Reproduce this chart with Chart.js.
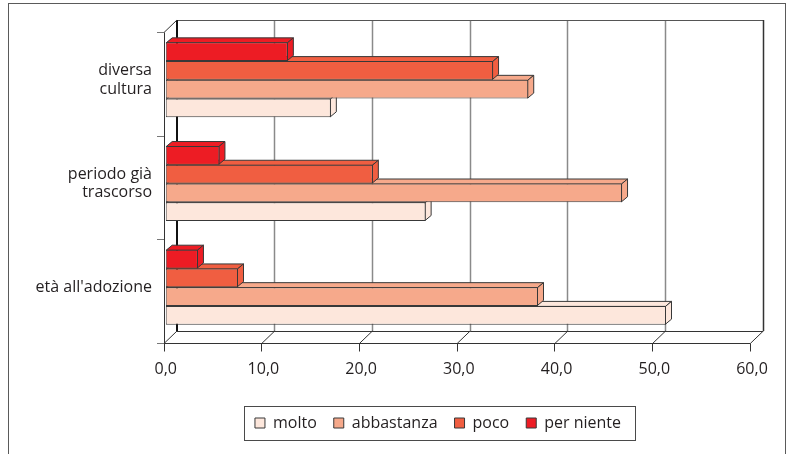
<!DOCTYPE html>
<html>
<head>
<meta charset="utf-8">
<script src="https://cdn.jsdelivr.net/npm/chart.js@4/dist/chart.umd.min.js"></script>
<style>
  html, body { margin: 0; padding: 0; background: #fff; }
  #wrap { width: 791px; height: 454px; }
</style>
</head>
<body>
<div id="wrap"><canvas id="c" width="791" height="454"></canvas></div>
<script>
// Categories, top to bottom
const categories = [['diversa', 'cultura'], ['periodo già', 'trascorso'], ["età all'adozione"]];

// Percentages per answer
const molto      = [16.9, 26.6, 51.2];
const abbastanza = [37.1, 46.7, 38.1];
const poco       = [33.5, 21.2, 7.4];
const perNiente  = [12.5, 5.5, 3.3];

const seriesNames = ['molto', 'abbastanza', 'poco', 'per niente'];
const xTicks = [0, 10, 20, 30, 40, 50, 60];
const xTickLabels = ['0,0', '10,0', '20,0', '30,0', '40,0', '50,0', '60,0'];

const TEXT = '#231f20';
const EDGE = '#383838';
const FONT = "'Open Sans', 'Noto Sans', sans-serif";
const FONT_SIZE = 16;
const colors = { molto: '#fde7dc', abbastanza: '#f6a98b', poco: '#f05e41', perNiente: '#ed1c24' };

// oblique projection offsets relative to the plane of the bar fronts
const FRONT = { dx: -1.7, dy: 4.5 };
const BACK = { dx: 11.3, dy: -8 };
const BAR_DEPTH = { dx: 6, dy: -5 };
const LEGEND_CENTER_X = 438;

// datasets listed top to bottom inside each group; legend shows them reversed
const series = [
  { label: seriesNames[3], data: perNiente, color: colors.perNiente },
  { label: seriesNames[2], data: poco, color: colors.poco },
  { label: seriesNames[1], data: abbastanza, color: colors.abbastanza },
  { label: seriesNames[0], data: molto, color: colors.molto }
];

function crisp(v) { return Math.round(v - 0.5) + 0.5; }

const frame = {
  id: 'frame',
  afterLayout(chart) {
    const lg = chart.legend;
    const shift = LEGEND_CENTER_X - (lg.left + lg.right) / 2;
    lg.left += shift;
    lg.right += shift;
  },
  beforeDraw(chart) {
    const ctx = chart.ctx;
    ctx.save();
    ctx.fillStyle = '#fff';
    ctx.fillRect(0, 0, chart.width, chart.height);
    ctx.strokeStyle = '#5a5a5a';
    ctx.lineWidth = 1;
    ctx.strokeRect(8.5, 3.5, 777, 470);
    ctx.restore();
  },
  afterDraw(chart) {
    const boxes = chart.legend.legendHitBoxes;
    if (!boxes || !boxes.length) return;
    const first = boxes[0], last = boxes[boxes.length - 1];
    const l = first.left - 10, r = last.left + last.width + 15;
    const t = first.top - 9, b = first.top + first.height + 9;
    const ctx = chart.ctx;
    ctx.save();
    ctx.strokeStyle = '#4a4a4a';
    ctx.lineWidth = 1;
    ctx.strokeRect(crisp(l), crisp(t), Math.round(r - l), Math.round(b - t));
    ctx.restore();
  }
};

const box3d = {
  id: 'box3d',
  beforeDatasetsDraw(chart) {
    const { ctx, chartArea: a, scales: { x, y } } = chart;
    const v0 = x.min, v1 = x.max;
    const fx = v => x.getPixelForValue(v) + FRONT.dx;
    const bx = v => x.getPixelForValue(v) + BACK.dx;
    const fTop = a.top + FRONT.dy, fBot = a.bottom + FRONT.dy;
    const bTop = a.top + BACK.dy, bBot = a.bottom + BACK.dy;

    const line = (x1, y1, x2, y2, color, w) => {
      ctx.beginPath();
      if (x1 === x2) { x1 = x2 = (w % 2 ? crisp(x1) : Math.round(x1)); }
      if (y1 === y2) { y1 = y2 = (w % 2 ? crisp(y1) : Math.round(y1)); }
      ctx.moveTo(x1, y1);
      ctx.lineTo(x2, y2);
      ctx.strokeStyle = color;
      ctx.lineWidth = w;
      ctx.stroke();
    };

    ctx.save();
    // back wall grid
    xTicks.forEach(v => {
      if (v > v0 && v < v1) line(bx(v), bTop, bx(v), bBot, '#8a8a8a', 1.5);
    });
    line(bx(v0), bTop, bx(v1), bTop, '#555', 1);
    line(bx(v1), bTop, bx(v1), bBot, '#333', 1.5);
    line(bx(v0), bTop, bx(v0), bBot, '#111', 2);

    // side wall edges
    line(fx(v0), fTop, bx(v0), bTop, '#333', 1);
    line(fx(v0), fTop, fx(v0), fBot, '#333', 1);

    // floor
    line(bx(v0), bBot, bx(v1), bBot, '#333', 1);
    line(fx(v0), fBot, fx(v1), fBot, '#333', 1);
    xTicks.forEach(v => {
      line(fx(v), fBot, bx(v), bBot, '#333', 1);
      line(fx(v), fBot, fx(v), fBot + 8, '#333', 1);
    });

    // category ticks on the front edge
    const n = y.ticks.length;
    for (let k = 0; k <= n; k++) {
      const yy = y.top + FRONT.dy + (y.bottom - y.top) * k / n;
      line(fx(v0) - 7, yy, fx(v0), yy, '#777', 1);
    }

    // bar tops and sides, lowest bar of each group first
    const face = (pts, fill) => {
      ctx.beginPath();
      ctx.moveTo(pts[0][0], pts[0][1]);
      for (let i = 1; i < pts.length; i++) ctx.lineTo(pts[i][0], pts[i][1]);
      ctx.closePath();
      ctx.fillStyle = fill;
      ctx.fill();
      ctx.strokeStyle = EDGE;
      ctx.lineWidth = 1;
      ctx.stroke();
    };
    const ds = chart.data.datasets;
    for (let di = ds.length - 1; di >= 0; di--) {
      const meta = chart.getDatasetMeta(di);
      meta.data.forEach(bar => {
        const p = bar.getProps(['x', 'y', 'base', 'height'], true);
        const l = p.base + 0.5, r = p.x - 0.5;
        const t = p.y - p.height / 2 + 0.5, b = p.y + p.height / 2 - 0.5;
        const dx = BAR_DEPTH.dx, dy = BAR_DEPTH.dy;
        face([[l, t], [l + dx, t + dy], [r + dx, t + dy], [r, t]], ds[di].backgroundColor);
        face([[r, t], [r + dx, t + dy], [r + dx, b + dy], [r, b]], ds[di].backgroundColor);
      });
    }
    ctx.restore();
  }
};

new Chart(document.getElementById('c'), {
  type: 'bar',
  data: {
    labels: categories,
    datasets: series.map(s => ({
      label: s.label,
      data: s.data,
      backgroundColor: s.color,
      borderColor: EDGE,
      borderWidth: 1,
      borderSkipped: false,
      categoryPercentage: 0.723,
      barPercentage: 1
    }))
  },
  options: {
    indexAxis: 'y',
    responsive: false,
    devicePixelRatio: 1,
    animation: false,
    layout: { padding: { left: 10, right: 39, top: 28, bottom: 13 } },
    scales: {
      x: {
        min: xTicks[0],
        max: xTicks[xTicks.length - 1],
        grid: { display: false, drawTicks: false },
        border: { display: false },
        afterBuildTicks: s => { s.ticks = xTicks.map(v => ({ value: v })); },
        afterFit: s => { s.height = 59; },
        ticks: {
          padding: 20.4,
          maxRotation: 0,
          autoSkip: false,
          color: TEXT,
          font: { family: FONT, size: FONT_SIZE },
          callback: (v) => xTickLabels[xTicks.indexOf(v)]
        }
      },
      y: {
        grid: { display: false, drawTicks: false },
        border: { display: false },
        afterFit: s => { s.width = 155.7; },
        ticks: {
          padding: 13.7,
          color: TEXT,
          font: { family: FONT, size: FONT_SIZE, lineHeight: 1.15 }
        }
      }
    },
    plugins: {
      tooltip: { enabled: false },
      legend: {
        position: 'bottom',
        reverse: true,
        labels: {
          boxWidth: 10,
          boxHeight: 10,
          padding: 17,
          color: TEXT,
          font: { family: FONT, size: FONT_SIZE }
        }
      }
    }
  },
  plugins: [frame, box3d]
});
</script>
</body>
</html>
